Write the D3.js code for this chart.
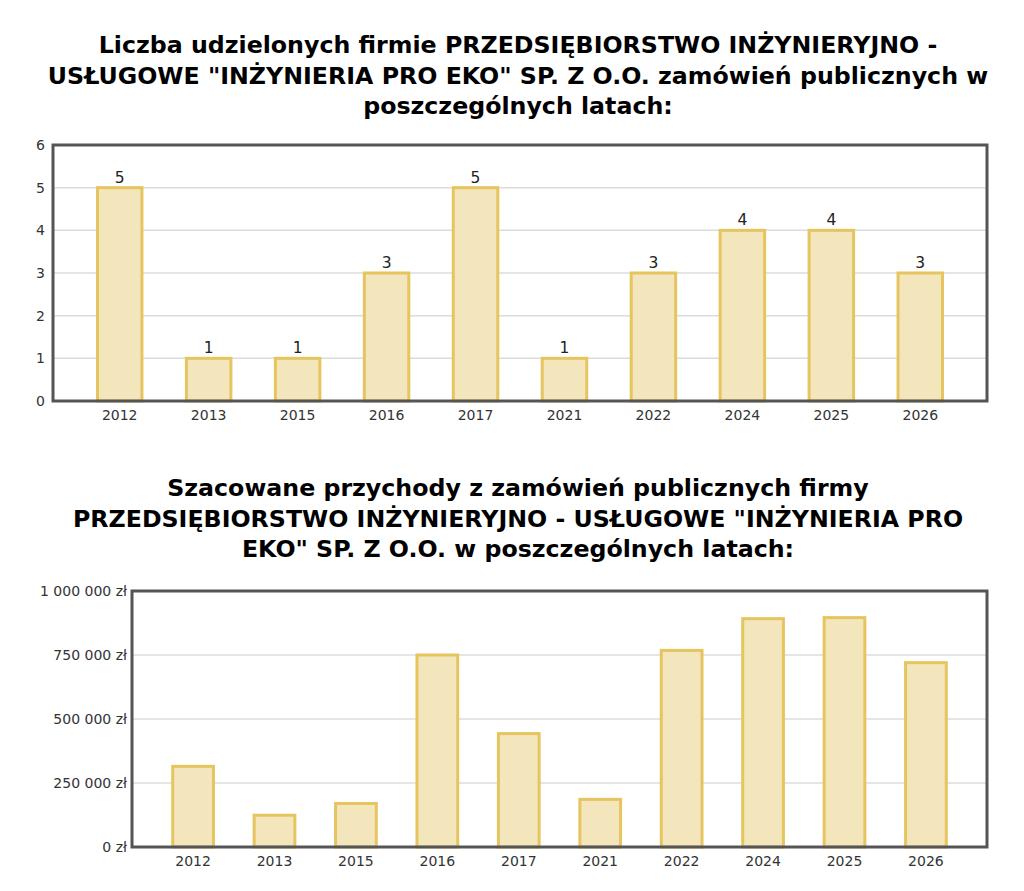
<!DOCTYPE html>
<html lang="pl">
  <head>
    <meta charset="UTF-8">
    <title>Zamówienia publiczne</title>
    <style>
      body { margin: 0; background: #fff; }
      svg { display: block; font-family: "DejaVu Sans", Verdana, sans-serif; }
    </style>
    <script src="https://d3js.org/d3.v7.min.js"></script>
  </head>
  <body>
    <script>
      var years = ["2012", "2013", "2015", "2016", "2017", "2021", "2022", "2024", "2025", "2026"];
      var counts = [5, 1, 1, 3, 5, 1, 3, 4, 4, 3];
      var revenues = [315000, 124000, 170000, 750000, 443000, 186000, 768000, 892000, 896000, 720000];
      var countTicks = [0, 1, 2, 3, 4, 5, 6];
      var revenueTicks = [0, 250000, 500000, 750000, 1000000];

      var title1 = [
        "Liczba udzielonych firmie PRZEDSIĘBIORSTWO INŻYNIERYJNO -",
        "USŁUGOWE \"INŻYNIERIA PRO EKO\" SP. Z O.O. zamówień publicznych w",
        "poszczególnych latach:"
      ];
      var title2 = [
        "Szacowane przychody z zamówień publicznych firmy",
        "PRZEDSIĘBIORSTWO INŻYNIERYJNO - USŁUGOWE \"INŻYNIERIA PRO",
        "EKO\" SP. Z O.O. w poszczególnych latach:"
      ];

      var svg = d3.select("body").append("svg")
        .attr("width", 1024)
        .attr("height", 891);

      function zl(v) {
        return d3.format(",")(v).replace(/,/g, " ") + " zł";
      }

      function drawTitle(lines, y0) {
        svg.append("g").selectAll("text").data(lines).enter().append("text")
          .attr("x", 518)
          .attr("y", function (d, i) { return y0 + i * 30.5; })
          .attr("text-anchor", "middle")
          .style("font-size", "23.7px")
          .style("font-weight", "bold")
          .style("fill", "#000")
          .text(function (d) { return d; });
      }

      // o: left/top/right/bottom of the framed plot, data, ticks, formatter
      function drawChart(o) {
        var x = d3.scaleBand().domain(years).range([o.left, o.right])
          .paddingInner(0.5).paddingOuter(0.5);
        var y = d3.scaleLinear().domain([0, o.max]).range([o.bottom, o.top]);
        var g = svg.append("g");

        // grid
        g.selectAll("line.grid").data(o.ticks.slice(1, -1)).enter().append("line")
          .attr("x1", o.left).attr("x2", o.right)
          .attr("y1", function (d) { return y(d); })
          .attr("y2", function (d) { return y(d); })
          .attr("stroke", "#dcdcdc")
          .attr("stroke-width", 1.5);

        // bars
        g.selectAll("rect.bar").data(o.values).enter().append("rect")
          .attr("x", function (d, i) { return x(years[i]); })
          .attr("y", function (d) { return y(d); })
          .attr("width", x.bandwidth())
          .attr("height", function (d) { return y(0) - y(d); })
          .attr("fill", "#f3e6bd")
          .attr("stroke", "#e6c45e")
          .attr("stroke-width", 3);

        if (o.labels) {
          g.selectAll("text.val").data(o.values).enter().append("text")
            .attr("x", function (d, i) { return x(years[i]) + x.bandwidth() / 2; })
            .attr("y", function (d) { return y(d) - 5; })
            .attr("text-anchor", "middle")
            .style("font-size", "15.5px")
            .style("fill", "#222")
            .text(function (d) { return d; });
        }

        // frame
        g.append("rect")
          .attr("x", o.left).attr("y", o.top)
          .attr("width", o.right - o.left)
          .attr("height", o.bottom - o.top)
          .attr("fill", "none")
          .attr("stroke", "#555")
          .attr("stroke-width", 3);

        var yAxis = d3.axisLeft(y).tickValues(o.ticks).tickSize(0).tickPadding(o.pad)
          .tickFormat(o.fmt);
        var ay = g.append("g").attr("transform", "translate(" + o.left + ",0)").call(yAxis);
        ay.select(".domain").remove();
        ay.selectAll("text").style("font-size", "14px").style("fill", "#333")
          .style("font-family", "DejaVu Sans, Verdana, sans-serif");

        var xAxis = d3.axisBottom(x).tickSize(0).tickPadding(9);
        var ax = g.append("g").attr("transform", "translate(0," + o.bottom + ")").call(xAxis);
        ax.select(".domain").remove();
        ax.selectAll("text").style("font-size", "14px").style("fill", "#333")
          .style("font-family", "DejaVu Sans, Verdana, sans-serif");
      }

      drawTitle(title1, 53);
      drawChart({
        left: 53, top: 145, right: 987, bottom: 401,
        values: counts, ticks: countTicks, max: 6,
        fmt: d3.format("d"), labels: true, pad: 8
      });

      drawTitle(title2, 496);
      drawChart({
        left: 132, top: 591, right: 987, bottom: 847,
        values: revenues, ticks: revenueTicks, max: 1000000,
        fmt: zl, labels: false, pad: 5
      });
    </script>
  </body>
</html>
